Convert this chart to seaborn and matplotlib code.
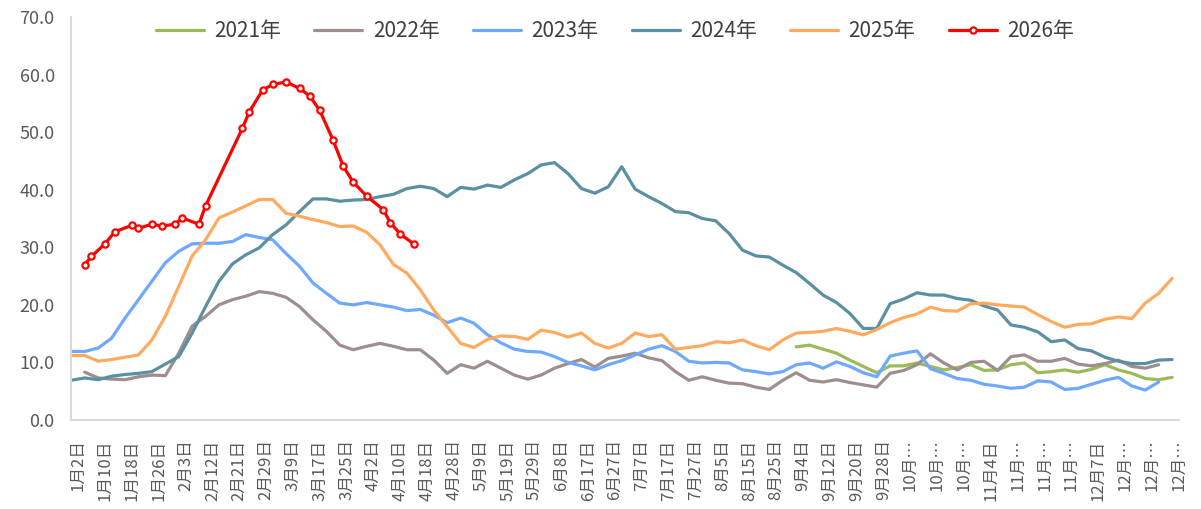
import numpy as np
import pandas as pd
import matplotlib
matplotlib.use("Agg")
import matplotlib.pyplot as plt
import seaborn as sns
from matplotlib.ticker import FormatStrFormatter

sns.set_theme(style="white")
plt.rcParams['font.family'] = ['Noto Sans CJK SC', 'DejaVu Sans']

# ---------------- data ----------------
tick_labels = ["1月2日", "1月10日", "1月18日", "1月26日", "2月3日", "2月12日", "2月21日",
               "2月29日", "3月9日", "3月17日", "3月25日", "4月2日", "4月10日", "4月18日",
               "4月28日", "5月9日", "5月19日", "5月29日", "6月8日", "6月17日", "6月27日",
               "7月7日", "7月17日", "7月27日", "8月5日", "8月15日", "8月25日", "9月4日",
               "9月12日", "9月20日", "9月28日", "10月…", "10月…", "10月…", "11月4日",
               "11月…", "11月…", "11月…", "12月7日", "12月…", "12月…", "12月…"]
tick_days = [8 * i + 2 for i in range(len(tick_labels))]

days = list(range(0, 332, 4))

v2021 = [np.nan] * 54 + [
    12.7, 13.0, 12.3, 11.6, 10.4, 9.3, 8.2, 9.4, 9.4, 9.9,
    9.3, 8.7, 9.1, 9.6, 8.6, 8.7, 9.6, 9.9, 8.2, 8.4,
    8.7, 8.3, 8.8, 9.6, 8.7, 8.1, 7.2, 7.0, 7.4]

v2022 = [np.nan, 8.3, 7.3, 7.1, 7.0, 7.5, 7.8, 7.7, 11.6, 16.3,
         18.0, 20.0, 20.9, 21.5, 22.3, 22.0, 21.3, 19.7, 17.4, 15.4,
         13.0, 12.2, 12.8, 13.3, 12.8, 12.2, 12.2, 10.4, 8.1, 9.6,
         9.0, 10.2, 9.0, 7.8, 7.1, 7.8, 9.0, 9.8, 10.5, 9.2,
         10.7, 11.1, 11.6, 10.8, 10.3, 8.4, 6.9, 7.5, 6.9, 6.4,
         6.3, 5.7, 5.3, 6.9, 8.2, 6.9, 6.6, 7.0, 6.5, 6.1,
         5.7, 8.1, 8.6, 9.6, 11.5, 9.9, 8.7, 10.0, 10.2, 8.6,
         11.0, 11.3, 10.2, 10.2, 10.7, 9.7, 9.4, 9.8, 10.4, 9.3,
         9.0, 9.6, np.nan]

v2023 = [11.9, 11.9, 12.5, 14.2, 17.7, 20.9, 24.1, 27.3, 29.3, 30.6,
         30.7, 30.7, 31.0, 32.2, 31.7, 31.3, 28.9, 26.7, 23.8, 22.0,
         20.3, 20.0, 20.4, 20.0, 19.6, 19.0, 19.2, 18.2, 16.9, 17.7,
         16.8, 14.8, 13.4, 12.3, 11.9, 11.8, 11.0, 10.0, 9.4, 8.7,
         9.6, 10.3, 11.3, 12.3, 12.9, 11.9, 10.2, 9.9, 10.0, 9.9,
         8.7, 8.4, 8.0, 8.4, 9.6, 9.9, 9.0, 10.1, 9.3, 8.2,
         7.5, 11.1, 11.6, 12.0, 8.9, 8.1, 7.2, 6.9, 6.2, 5.9,
         5.5, 5.7, 6.8, 6.6, 5.3, 5.5, 6.2, 6.9, 7.4, 5.9,
         5.2, 6.6, np.nan]

v2024 = [6.9, 7.3, 7.0, 7.6, 7.9, 8.1, 8.4, 9.7, 11.0, 15.1,
         19.7, 24.1, 27.1, 28.7, 29.9, 32.2, 33.9, 36.2, 38.4, 38.4,
         38.0, 38.2, 38.3, 38.8, 39.2, 40.2, 40.6, 40.2, 38.8, 40.4,
         40.1, 40.8, 40.4, 41.7, 42.8, 44.3, 44.7, 42.8, 40.2, 39.4,
         40.5, 44.0, 40.1, 38.8, 37.6, 36.2, 36.0, 35.0, 34.6, 32.4,
         29.5, 28.5, 28.3, 26.9, 25.6, 23.7, 21.7, 20.4, 18.5, 15.9,
         15.9, 20.2, 21.0, 22.1, 21.7, 21.7, 21.1, 20.8, 19.8, 19.1,
         16.5, 16.1, 15.3, 13.6, 13.9, 12.4, 12.0, 10.9, 10.2, 9.8,
         9.8, 10.4, 10.5]

v2025 = [11.2, 11.2, 10.2, 10.5, 10.9, 11.3, 13.9, 18.0, 23.2, 28.5,
         31.3, 35.1, 36.1, 37.2, 38.3, 38.3, 35.9, 35.4, 34.8, 34.3,
         33.6, 33.7, 32.6, 30.4, 27.0, 25.5, 22.6, 19.1, 16.2, 13.3,
         12.6, 14.0, 14.6, 14.5, 14.0, 15.6, 15.2, 14.4, 15.1, 13.3,
         12.5, 13.3, 15.1, 14.5, 14.8, 12.3, 12.6, 12.9, 13.6, 13.4,
         13.9, 12.9, 12.2, 13.9, 15.1, 15.2, 15.4, 15.9, 15.4, 14.8,
         15.7, 16.9, 17.8, 18.4, 19.6, 19.0, 18.9, 20.2, 20.3, 20.0,
         19.8, 19.6, 18.3, 17.1, 16.1, 16.6, 16.7, 17.5, 17.9, 17.6,
         20.3, 22.0, 24.6]

days2026 = [4, 6, 10, 13, 18, 20, 24, 27, 31, 33, 38, 40, 51, 53,
            57, 60, 64, 68, 71, 74, 78, 81, 84, 88, 93, 95, 98, 102]
v2026 = [27.0, 28.4, 30.6, 32.7, 33.8, 33.3, 34.0, 33.7, 34.0, 35.1, 34.0, 37.2, 50.7, 53.5,
         57.3, 58.3, 58.7, 57.6, 56.3, 53.8, 48.6, 44.1, 41.3, 38.9, 36.5, 34.3, 32.3, 30.6]

series_names = ["2021年", "2022年", "2023年", "2024年", "2025年"]
series_values = [v2021, v2022, v2023, v2024, v2025]
series_colors = ["#9BBB59", "#9E8E8E", "#6FA8FF", "#5B8FA2", "#FFAA5E"]

# ---------------- plot ----------------
fig = plt.figure(figsize=(12.01, 5.09), dpi=100)
ax = fig.add_axes([0.0594, 0.1749, 0.9221, 0.7917])

for name, vals, col in zip(series_names, series_values, series_colors):
    df = pd.DataFrame({"day": days, "value": vals}).dropna()
    sns.lineplot(data=df, x="day", y="value", ax=ax, color=col, linewidth=2.3,
                 label=name, sort=False)

df26 = pd.DataFrame({"day": days2026, "value": v2026})
sns.lineplot(data=df26, x="day", y="value", ax=ax, color="#FF0000", linewidth=2.3,
             marker="o", markersize=4.5, markerfacecolor="white",
             markeredgecolor="#FF0000", markeredgewidth=1.6, label="2026年", sort=False)

ax.set_xlim(0, 330)
ax.set_ylim(0, 70)
ax.set_xlabel("")
ax.set_ylabel("")

ax.set_xticks(tick_days)
ax.set_xticklabels(tick_labels, rotation=90, ha="center", va="top",
                   fontsize=12, color="#595959")
ax.tick_params(axis="x", length=0, pad=14)

ax.set_yticks(np.arange(0, 71, 10))
ax.yaxis.set_major_formatter(FormatStrFormatter("%.1f"))
ax.tick_params(axis="y", direction="in", length=5, width=1.2, color="#D9D9D9",
               labelsize=13, labelcolor="#595959", pad=12)

for s in ["top", "right"]:
    ax.spines[s].set_visible(False)
for s in ["left", "bottom"]:
    ax.spines[s].set_color("#D9D9D9")
    ax.spines[s].set_linewidth(1.5)
ax.grid(False)

handles, labels = ax.get_legend_handles_labels()
leg = ax.legend(handles, labels, ncol=6, loc="center", bbox_to_anchor=(0.512, 0.939),
                bbox_transform=fig.transFigure, frameon=False, fontsize=15,
                handlelength=2.3, handletextpad=0.5, columnspacing=1.6)
for t in leg.get_texts():
    t.set_color("#404040")

fig.savefig("out.png", dpi=100)
